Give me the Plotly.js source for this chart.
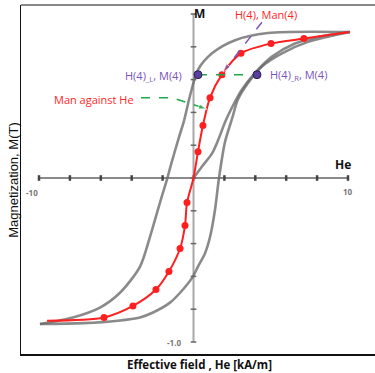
<!DOCTYPE html>
<html><head><meta charset="utf-8">
<script src="https://cdn.plot.ly/plotly-3.0.1.min.js"></script>
<style>html,body{margin:0;padding:0;background:#fff;}#c{width:375px;height:373px;}</style>
</head><body><div id="c"></div>
<script>
// Descending (upper) branch of the hysteresis loop: He, M
const descH = [10.13, 4.82, 2.69, 1.20, 0.29, -0.23, -0.61, -1.00, -1.46, -1.72, -2.17, -2.82, -3.46, -4.76, -6.05, -7.80, -9.94];
const descM = [0.89, 0.884, 0.84, 0.76, 0.66, 0.50, 0.35, 0.23, 0.08, -0.01, -0.15, -0.36, -0.54, -0.70, -0.79, -0.85, -0.89];
// Ascending (lower) branch
const ascH = [-9.94, -7.15, -4.90, -3.46, -2.62, -1.52, -0.68, -0.03, 0.29, 0.74, 1.07, 1.39, 1.65, 2.04, 2.49, 2.88, 3.53, 4.43, 5.73, 7.41, 10.13];
const ascM = [-0.89, -0.885, -0.87, -0.85, -0.82, -0.76, -0.68, -0.60, -0.54, -0.46, -0.36, -0.195, 0.0, 0.22, 0.36, 0.48, 0.58, 0.68, 0.76, 0.83, 0.89];
// Initial magnetisation curve
const initH = [0, 0.55, 1.20, 1.59, 2.04, 2.49, 3.14, 3.98, 5.08, 6.57, 8.06, 10.13];
const initM = [0, 0.07, 0.15, 0.23, 0.34, 0.43, 0.54, 0.64, 0.74, 0.82, 0.86, 0.89];
// Anhysteretic curve Man against He
const manLineH = [-9.48, -5.79, -3.92, -2.43, -1.59, -0.87, -0.55, -0.42, 0, 0.29, 0.61, 1.07, 1.84, 3.07, 5.02, 7.15, 10.1];
const manLineM = [-0.87, -0.85, -0.78, -0.68, -0.57, -0.43, -0.29, -0.15, 0, 0.16, 0.32, 0.49, 0.63, 0.76, 0.82, 0.85, 0.89];
const manPtsH = [-5.79, -3.92, -2.43, -1.59, -0.87, -0.55, -0.42, 0.29, 0.61, 1.07, 1.84, 3.07, 5.02, 7.15];
const manPtsM = [-0.85, -0.78, -0.68, -0.57, -0.43, -0.29, -0.15, 0.16, 0.32, 0.49, 0.63, 0.76, 0.82, 0.85];
// H(4)_L and H(4)_R points at M(4)
const h4H = [0.29, 4.11];
const h4M = [0.63, 0.63];
// Inner axis ticks
const xTicks = [-10, -8, -6, -4, -2, 0, 2, 4, 6, 8, 10];
const yTicks = [-1, -0.8, -0.6, -0.4, -0.2, 0, 0.2, 0.4, 0.6, 0.8, 1];
// Arrows
const greenArrowH = [-3.4, -1.39, 0.87];
const greenArrowM = [0.49, 0.49, 0.42];
const purpleArrowH = [4.43, 1.91];
const purpleArrowM = [0.95, 0.646];

const grey = 'rgba(105,105,105,0.78)';
const purple = '#7a55b8';
const green = '#1faa4a';
const red = '#ff1f1f';

const traces = [
  {x: xTicks, y: xTicks.map(() => 0), mode: 'lines+markers', line: {color: '#8a8a8a', width: 2},
   marker: {symbol: 'line-ns', size: 4, line: {color: '#444', width: 2.5}}, hoverinfo: 'skip'},
  {x: yTicks.map(() => 0), y: yTicks, mode: 'lines+markers', line: {color: '#a8a8a8', width: 2},
   marker: {symbol: 'line-ew', size: 4, line: {color: '#666', width: 1.5}}, hoverinfo: 'skip'},
  {x: descH, y: descM, mode: 'lines', line: {color: grey, width: 2.6, shape: 'spline', smoothing: 0.8}},
  {x: ascH, y: ascM, mode: 'lines', line: {color: grey, width: 2.6, shape: 'spline', smoothing: 0.8}},
  {x: initH, y: initM, mode: 'lines', line: {color: grey, width: 2.6, shape: 'spline', smoothing: 0.8}},
  {x: manLineH, y: manLineM, mode: 'lines', line: {color: red, width: 2, shape: 'spline', smoothing: 0.8}},
  {x: manPtsH, y: manPtsM, mode: 'markers', marker: {color: red, size: 7}},
  {x: h4H, y: h4M, mode: 'lines', line: {color: green, width: 1.5, dash: 'dash'}},
  {x: h4H, y: h4M, mode: 'markers', marker: {color: '#5a3f9e', size: 8, line: {color: '#2a1f4e', width: 1}}},
  {x: greenArrowH, y: greenArrowM, mode: 'lines+markers', line: {color: green, width: 1.5, dash: 'dash'},
   marker: {symbol: 'arrow', size: [0, 0, 9], color: green, angleref: 'previous'}},
  {x: purpleArrowH, y: purpleArrowM, mode: 'lines+markers', line: {color: purple, width: 1.5, dash: 'dash'},
   marker: {symbol: 'arrow', size: [0, 9], color: purple, angleref: 'previous'}}
];

const font = 'Open Sans, Arial, sans-serif';
const ann = [
  {x: 4.72, y: 0.994, text: 'H(4), Man(4)', font: {color: red, size: 11, family: font}},
  {x: 4.82, y: 0.628, xanchor: 'left', text: 'H(4)<sub>_R</sub>, M(4)', font: {color: purple, size: 11, family: font}},
  {x: -0.61, y: 0.62, xanchor: 'right', text: 'H(4)<sub>_L</sub>, M(4)', font: {color: purple, size: 11, family: font}},
  {x: -6.47, y: 0.48, text: 'Man against He', font: {color: red, size: 11, family: font}},
  {x: 0.42, y: 1.006, text: '<b>M</b>', font: {color: '#111', size: 12, family: font}},
  {x: 9.68, y: 0.08, text: '<b>He</b>', font: {color: '#111', size: 12, family: font}},
  {x: -10.45, y: -0.09, text: '<b>-10</b>', font: {color: '#777', size: 8, family: font}},
  {x: 10.0, y: -0.08, text: '<b>10</b>', font: {color: '#777', size: 8, family: font}},
  {x: -1.26, y: -1.0, text: '<b>-1.0</b>', font: {color: '#777', size: 8, family: font}},
  {xref: 'paper', yref: 'paper', x: -0.0198, y: 0.499, xanchor: 'center', yanchor: 'middle', textangle: -90,
   text: 'Magnetization, M(T)', font: {color: '#111', size: 13, family: 'Liberation Sans Narrow, Arial Narrow, sans-serif'}},
  {xref: 'paper', yref: 'paper', x: 0.5056, y: -0.0315, xanchor: 'center', yanchor: 'middle',
   text: '<b>Effective field , He [kA/m]</b>', font: {color: '#111', size: 11.5, family: font}}
].map(a => Object.assign({showarrow: false}, a));

const layout = {
  width: 375, height: 373,
  margin: {l: 21, r: 0, t: 5, b: 19},
  paper_bgcolor: '#fff', plot_bgcolor: '#fff',
  showlegend: false,
  xaxis: {range: [-11.165, 11.748], showgrid: false, zeroline: false, showticklabels: false, ticks: '',
          showline: true, linecolor: '#111', linewidth: 1.5},
  yaxis: {range: [-1.0732, 1.0549], showgrid: false, zeroline: false, showticklabels: false, ticks: '',
          showline: true, linecolor: '#111', linewidth: 1.5},
  shapes: [{type: 'line', xref: 'paper', yref: 'paper', x0: 0, x1: 1, y0: 1, y1: 1, line: {color: '#888', width: 2}}],
  annotations: ann
};
Plotly.newPlot('c', traces, layout, {displayModeBar: false, staticPlot: true});
</script></body></html>
